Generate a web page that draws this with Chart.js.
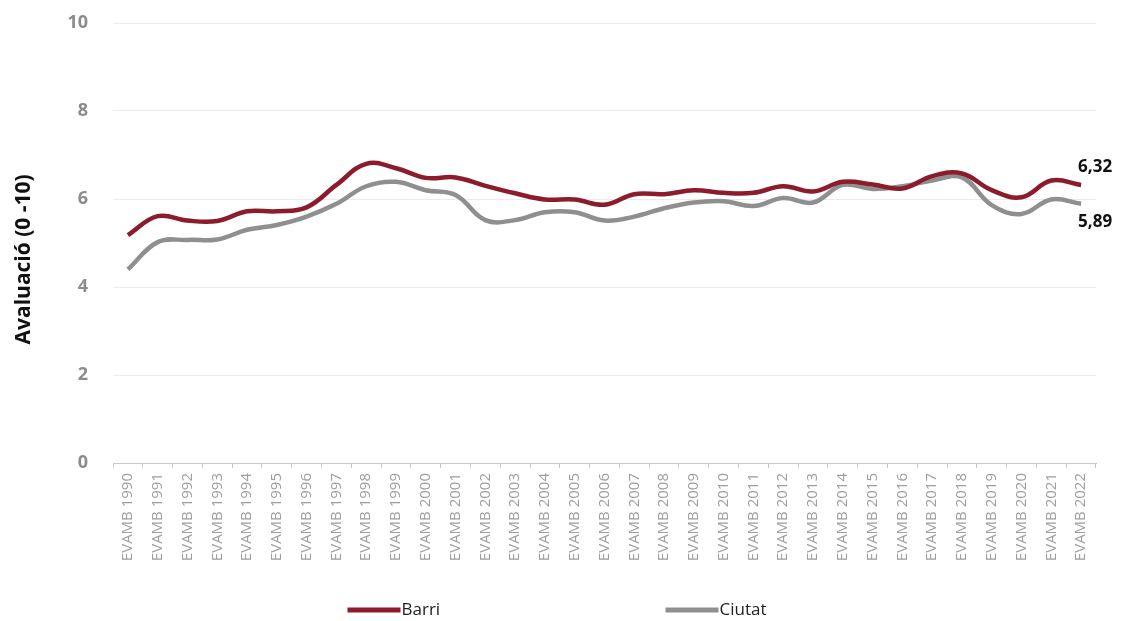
<!DOCTYPE html>
<html>
<head>
<meta charset="utf-8">
<script src="https://cdn.jsdelivr.net/npm/chart.js@4/dist/chart.umd.min.js"></script>
<style>
  html, body { margin: 0; padding: 0; background: #fff; }
  #wrap { width: 1121px; height: 621px; }
</style>
</head>
<body>
<div id="wrap"><canvas id="lineChart"></canvas></div>
<script>
// years of the survey
const years = [1990, 1991, 1992, 1993, 1994, 1995, 1996, 1997, 1998, 1999, 2000, 2001, 2002, 2003, 2004, 2005,
    2006, 2007, 2008, 2009, 2010, 2011, 2012, 2013, 2014, 2015, 2016, 2017, 2018, 2019, 2020, 2021, 2022];
const labels = years.map(y => 'EVAMB ' + y);

// values
const barri = [5.18, 5.61, 5.51, 5.50, 5.72, 5.72, 5.81, 6.32, 6.80, 6.70, 6.48, 6.49, 6.30, 6.13, 5.99, 5.99,
    5.87, 6.11, 6.11, 6.20, 6.14, 6.14, 6.29, 6.17, 6.39, 6.33, 6.24, 6.52, 6.58, 6.20, 6.04, 6.42, 6.32];
const ciutat = [4.40, 5.02, 5.07, 5.08, 5.30, 5.41, 5.60, 5.89, 6.29, 6.39, 6.20, 6.09, 5.52, 5.52, 5.70, 5.70,
    5.51, 5.60, 5.79, 5.92, 5.95, 5.84, 6.02, 5.92, 6.32, 6.23, 6.29, 6.42, 6.49, 5.86, 5.66, 5.99, 5.89];
const yTicks = [0, 2, 4, 6, 8, 10];

const red = '#8c1c2b';
const grey = '#8f8f8f';

// last values written next to the end of each line
const endLabels = {
    id: 'endLabels',
    afterDatasetsDraw(chart) {
        const ctx = chart.ctx;
        const x = chart.scales.x.getPixelForValue(labels.length - 1);
        const y = chart.scales.y;
        ctx.save();
        ctx.font = 'bold 17px "Open Sans"';
        ctx.fillStyle = '#111';
        ctx.textAlign = 'left';
        ctx.textBaseline = 'middle';
        ctx.fillText(barri[barri.length - 1].toFixed(2).replace('.', ','), x - 3, y.getPixelForValue(barri[barri.length - 1]) - 18);
        ctx.fillText(ciutat[ciutat.length - 1].toFixed(2).replace('.', ','), x - 3, y.getPixelForValue(ciutat[ciutat.length - 1]) + 18);
        ctx.restore();
    }
};

// legend at the bottom, wide gap between the two entries
const bottomLegend = {
    id: 'bottomLegend',
    afterDraw(chart) {
        const ctx = chart.ctx;
        const mid = chart.width / 2;
        const y = 610;
        const items = [
            {text: 'Barri', color: red, x: mid - 213},
            {text: 'Ciutat', color: grey, x: mid + 105}
        ];
        ctx.save();
        ctx.font = '17px "Open Sans"';
        ctx.textBaseline = 'middle';
        ctx.textAlign = 'left';
        items.forEach(item => {
            ctx.strokeStyle = item.color;
            ctx.lineWidth = 5;
            ctx.beginPath();
            ctx.moveTo(item.x, y);
            ctx.lineTo(item.x + 53, y);
            ctx.stroke();
            ctx.fillStyle = '#222';
            ctx.fillText(item.text, item.x + 54, y);
        });
        ctx.restore();
    }
};

const ctx = document.getElementById('lineChart').getContext('2d');

new Chart(ctx, {
    type: 'line',
    data: {
        labels: labels,
        datasets: [
            {
                label: 'Barri',
                data: barri,
                borderColor: red,
                backgroundColor: red,
                borderWidth: 4.5,
                pointRadius: 0,
                tension: 0.4
            },
            {
                label: 'Ciutat',
                data: ciutat,
                borderColor: grey,
                backgroundColor: grey,
                borderWidth: 4.5,
                pointRadius: 0,
                tension: 0.4
            }
        ]
    },
    options: {
        responsive: true,
        maintainAspectRatio: false,
        animation: false,
        layout: {
            padding: {top: 23, right: 25, bottom: 40, left: 10}
        },
        plugins: {
            legend: {display: false},
            tooltip: {enabled: false}
        },
        scales: {
            x: {
                offset: true,
                grid: {
                    offset: true,
                    drawOnChartArea: false,
                    drawTicks: true,
                    tickLength: 5,
                    color: '#c8c8c8'
                },
                border: {color: '#c8c8c8'},
                ticks: {
                    minRotation: 90,
                    maxRotation: 90,
                    autoSkip: false,
                    padding: 5,
                    color: '#9e9e9e',
                    font: {family: 'Open Sans', size: 15}
                },
                afterFit(scale) {
                    scale.height = 118;
                }
            },
            y: {
                min: 0,
                max: 10,
                afterBuildTicks(scale) {
                    scale.ticks = yTicks.map(v => ({value: v}));
                },
                grid: {
                    drawTicks: false,
                    color: '#ebebeb'
                },
                border: {display: false},
                ticks: {
                    padding: 25,
                    color: '#8c8c8c',
                    font: {family: 'Open Sans', size: 18, weight: 'bold'}
                },
                title: {
                    display: true,
                    // trailing spaces push the text a little lower, like the original
                    text: 'Avaluació (0 -10)\u00a0\u00a0\u00a0\u00a0\u00a0\u00a0',
                    color: '#111',
                    padding: {top: 1, bottom: 0},
                    font: {family: 'Open Sans', size: 21, weight: 'bold'}
                },
                afterFit(scale) {
                    scale.width = 103;
                    scale.paddingTop = 0;
                    scale.paddingBottom = 0;
                }
            }
        }
    },
    plugins: [endLabels, bottomLegend]
});
</script>
</body>
</html>
